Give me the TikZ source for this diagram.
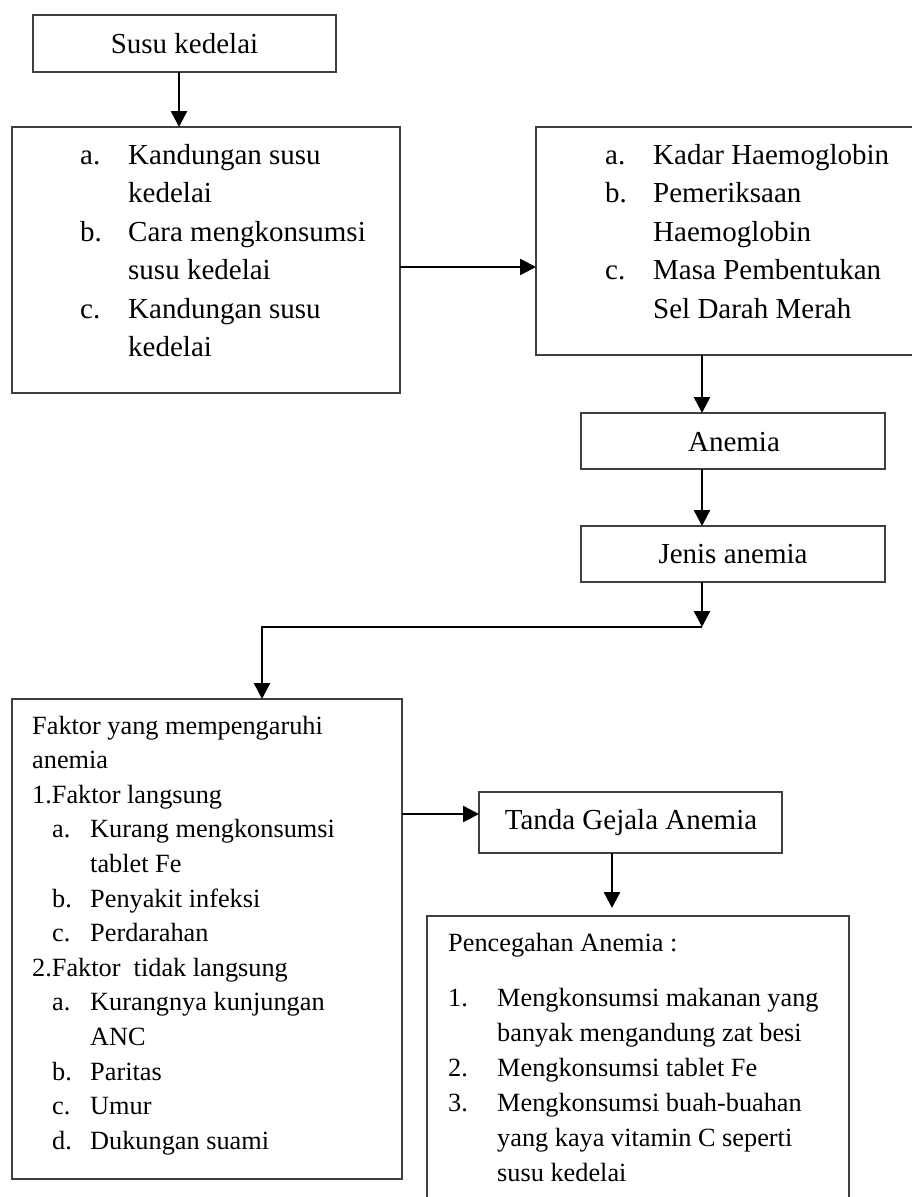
\documentclass[tikz,border=0pt]{standalone}
\usepackage{fontspec}
\setmainfont{Liberation Serif}
\usetikzlibrary{arrows.meta,calc}
\begin{document}
\begin{tikzpicture}[x=1pt,y=-1pt,
  box/.style={draw=black!75, line width=1.8pt, inner sep=0pt, outer sep=0pt},
  arr/.style={line width=2.5pt, -{Triangle[length=16pt,width=16pt]}},
  big/.style={inner sep=0pt, anchor=base west, font=\fontsize{29}{35}\selectfont},
  bigc/.style={inner sep=0pt, anchor=base, font=\fontsize{29}{35}\selectfont},
  small/.style={inner sep=0pt, anchor=base west, font=\fontsize{26.3}{32}\selectfont}]
\useasboundingbox (0,0) rectangle (912,1197);
\clip (0,0) rectangle (912,1197);
\fill[white] (0,0) rectangle (912,1197);

% boxes
\node[box, minimum width=303pt, minimum height=57pt] (b1) at (184.5,43.5) {};
\node[box, minimum width=388pt, minimum height=266pt] (b2) at (206,260) {};
\node[box, minimum width=380pt, minimum height=228pt] (b3) at (726,241) {};
\node[box, minimum width=304pt, minimum height=56pt] (anemia) at (733,441) {};
\node[box, minimum width=304pt, minimum height=56pt] (jenis) at (733,554) {};
\node[box, minimum width=390pt, minimum height=480pt] (b4) at (207,939) {};
\node[box, minimum width=303pt, minimum height=61pt] (tanda) at (630.5,822.5) {};
\node[box, minimum width=422pt, minimum height=300pt] (penc) at (638,1066) {};

% single-line texts
\node[bigc] (t1) at (184.5,53) {Susu kedelai};
\node[bigc] (tan) at (734,451) {Anemia};
\node[bigc] (tjen) at (733,563) {Jenis anemia};
\node[bigc] (ttan) at (631,829.5) {Tanda Gejala Anemia};

% box 2 text
\node[big] (b2la) at (80,164) {a.};
\node[big] (b2a1) at (128,164) {Kandungan susu};
\node[big] (b2a2) at (128,202.5) {kedelai};
\node[big] (b2lb) at (80,241) {b.};
\node[big] (b2b1) at (128,241) {Cara mengkonsumsi};
\node[big] (b2b2) at (128,279.5) {susu kedelai};
\node[big] (b2lc) at (80,318) {c.};
\node[big] (b2c1) at (128,318) {Kandungan susu};
\node[big] (b2c2) at (128,356.5) {kedelai};

% box 3 text
\node[big] (b3la) at (605,164) {a.};
\node[big] (b3a1) at (653,164) {Kadar Haemoglobin};
\node[big] (b3lb) at (605,202.5) {b.};
\node[big] (b3b1) at (653,202.5) {Pemeriksaan};
\node[big] (b3b2) at (653,241) {Haemoglobin};
\node[big] (b3lc) at (605,279.5) {c.};
\node[big] (b3c1) at (653,279.5) {Masa Pembentukan};
\node[big] (b3c2) at (653,318) {Sel Darah Merah};

% box 4 text
\node[small] (f0) at (32,734) {Faktor yang mempengaruhi};
\node[small] (f0b) at (32,768.6) {anemia};
\node[small] (f1) at (32,803.2) {1.Faktor langsung};
\node[small] (f1la) at (52,837.8) {a.};
\node[small] (f1a1) at (90,837.8) {Kurang mengkonsumsi};
\node[small] (f1a2) at (90,872.4) {tablet Fe};
\node[small] (f1lb) at (52,907) {b.};
\node[small] (f1b) at (90,907) {Penyakit infeksi};
\node[small] (f1lc) at (52,941.6) {c.};
\node[small] (f1c) at (90,941.6) {Perdarahan};
\node[small] (f2) at (32,976.2) {2.Faktor\ \ tidak langsung};
\node[small] (f2la) at (52,1010.8) {a.};
\node[small] (f2a1) at (90,1010.8) {Kurangnya kunjungan};
\node[small] (f2a2) at (90,1045.4) {ANC};
\node[small] (f2lb) at (52,1080) {b.};
\node[small] (f2b) at (90,1080) {Paritas};
\node[small] (f2lc) at (52,1114.6) {c.};
\node[small] (f2c) at (90,1114.6) {Umur};
\node[small] (f2ld) at (52,1149.2) {d.};
\node[small] (f2d) at (90,1149.2) {Dukungan suami};

% pencegahan text
\node[small] (p0) at (448,951.7) {Pencegahan Anemia :};
\node[small] (pl1) at (448,1006.7) {1.};
\node[small] (p1a) at (497,1006.7) {Mengkonsumsi makanan yang};
\node[small] (p1b) at (497,1041.7) {banyak mengandung zat besi};
\node[small] (pl2) at (448,1076.7) {2.};
\node[small] (p2) at (497,1076.7) {Mengkonsumsi tablet Fe};
\node[small] (pl3) at (448,1111.7) {3.};
\node[small] (p3a) at (497,1111.7) {Mengkonsumsi buah-buahan};
\node[small] (p3b) at (497,1146.7) {yang kaya vitamin C seperti};
\node[small] (p3c) at (497,1181.7) {susu kedelai};

% connectors
\draw[arr] ([xshift=-5.5pt]b1.south) -- ([xshift=-5.5pt]b1.south |- b2.north);
\draw[arr] ([yshift=-7pt]b2.east) -- ([yshift=-7pt]b2.east -| b3.west);
\draw[arr] ([xshift=-31pt]anemia.north |- b3.south) -- ([xshift=-31pt]anemia.north);
\draw[arr] ([xshift=-31pt]anemia.south) -- ([xshift=-31pt]jenis.north);
\coordinate (turn) at (702,627);
\coordinate (turn2) at (262,627);
\draw[arr] ([xshift=-31pt]jenis.south) -- (turn);
\draw[arr] (turn) -- (turn2) -- (turn2 |- b4.north);
\draw[arr] ([yshift=8.5pt]tanda.west -| b4.east) -- ([yshift=8.5pt]tanda.west);
\draw[arr, shorten >=8pt] ([xshift=-18.5pt]tanda.south) -- ([xshift=-18.5pt]tanda.south |- penc.north);
\end{tikzpicture}
\end{document}
